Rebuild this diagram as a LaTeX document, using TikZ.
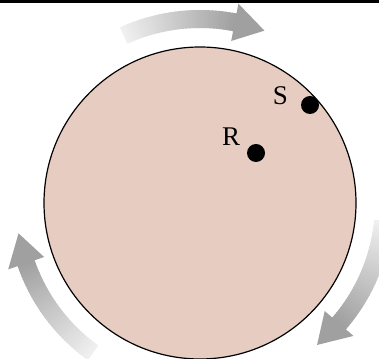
\documentclass[tikz,border=0pt]{standalone}
\usepackage{fontspec}
\setmainfont{Liberation Serif}
\definecolor{disc}{RGB}{230,204,193}
\definecolor{arrowlight}{RGB}{240,240,240}
\definecolor{arrowdark}{RGB}{160,160,160}
\begin{document}
\begin{tikzpicture}[
        x=1pt, y=1pt,
        point/.style={circle, fill=black, inner sep=0pt, minimum size=18pt},
        letter/.style={font=\fontsize{27}{27}\selectfont, inner sep=0pt}
    ]

    \def\r{184}
    \def\rin{175}
    \def\rout{193}

    \useasboundingbox (0,0) rectangle (379,358);
    \fill[black] (0,355) rectangle (379,358);

    \coordinate (O) at (200,155);
    \draw[fill=disc, line width=1.2pt] (O) circle (156);

    % turning arrows, light tail to dark head
    \begin{scope}[shift={(O)}]
        \foreach \t in {69.5, 189.5, 309.5} {
            \foreach \i in {0,...,35} {
                \pgfmathsetmacro{\pc}{100*\i/35}
                \pgfmathsetmacro{\a}{\t+45-\i}
                \pgfmathsetmacro{\b}{\t+45-\i-1.3}
                \fill[arrowdark!\pc!arrowlight] (\a:\rin) arc[start angle=\a, end angle=\b, radius=\rin]
                    -- (\b:\rout) arc[start angle=\b, end angle=\a, radius=\rout] -- cycle;
            }
            \fill[arrowdark] (\t+9.6:165) -- (\t+9.6:203) -- (\t:\r) -- cycle;
        }
    \end{scope}

    \node[point] (S) at (310,253) {};
    \node[point] (R) at (256,205) {};
    \node[letter] (Slabel) at (280.5,262) {S};
    \node[letter] (Rlabel) at (231,221.5) {R};
\end{tikzpicture}
\end{document}
